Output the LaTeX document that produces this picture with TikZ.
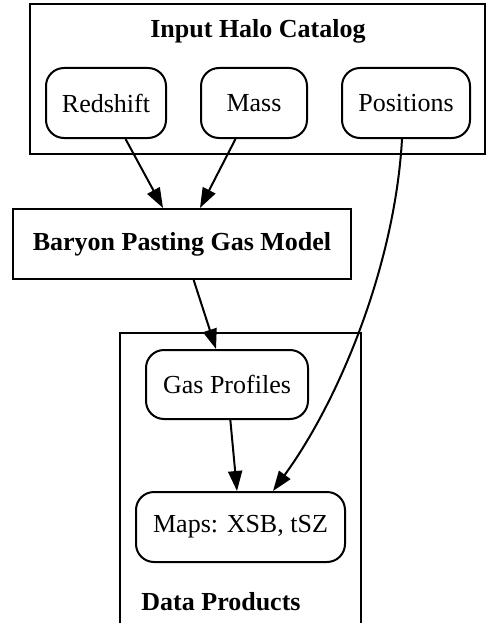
\documentclass[tikz,border=0pt]{standalone}
\usepackage{fontspec}
\setmainfont{Liberation Serif}
\usetikzlibrary{arrows.meta, positioning}

\begin{document}
\begin{tikzpicture}[x=1pt, y=-1pt, line width=2pt,
    font=\fontsize{26}{31}\selectfont,
    >={Triangle[length=20pt, width=14pt]},
    field/.style={draw, rounded corners=18pt, minimum height=70pt, inner sep=0pt},
    stage/.style={draw, minimum height=70pt, inner sep=0pt, font=\fontsize{26}{31}\selectfont\bfseries},
    title/.style={font=\fontsize{26}{31}\selectfont\bfseries}]
\useasboundingbox (0,0) rectangle (487,623);

\draw (30,4) rectangle (485,154);
\node[title] (halo-title) at (258,31) {Input Halo Catalog};
\draw (120,623) -- (120,333) -- (361,333) -- (361,623);
\node[title] (data-title) at (221,602) {Data Products};

\node[field, minimum width=120pt] (redshift) at (106,103) {Redshift};
\node[field, minimum width=106pt] (mass) at (254,103) {Mass};
\node[field, minimum width=128pt] (positions) at (406,103) {Positions};

\node[stage, minimum width=338pt] (baryon) at (182,244) {Baryon Pasting Gas Model};

\node[field, minimum width=162pt, minimum height=69pt] (gas) at (227,384.5) {Gas Profiles};
\node[field, minimum width=209pt] (maps) at (240.5,527) {Maps: XSB, tSZ};

\draw[->] (redshift) -- ([xshift=-19pt]baryon.north);
\draw[->] (mass) -- ([xshift=18pt]baryon.north);
\draw[->] (baryon) -- ([xshift=-11pt]gas.north);
\draw[->] (gas) -- ([xshift=-3.5pt]maps.north);
\draw[->] ([xshift=-4pt]positions.south) .. controls +(-7,125) and +(67,-92) .. ([xshift=32.5pt]maps.north);

\end{tikzpicture}
\end{document}
